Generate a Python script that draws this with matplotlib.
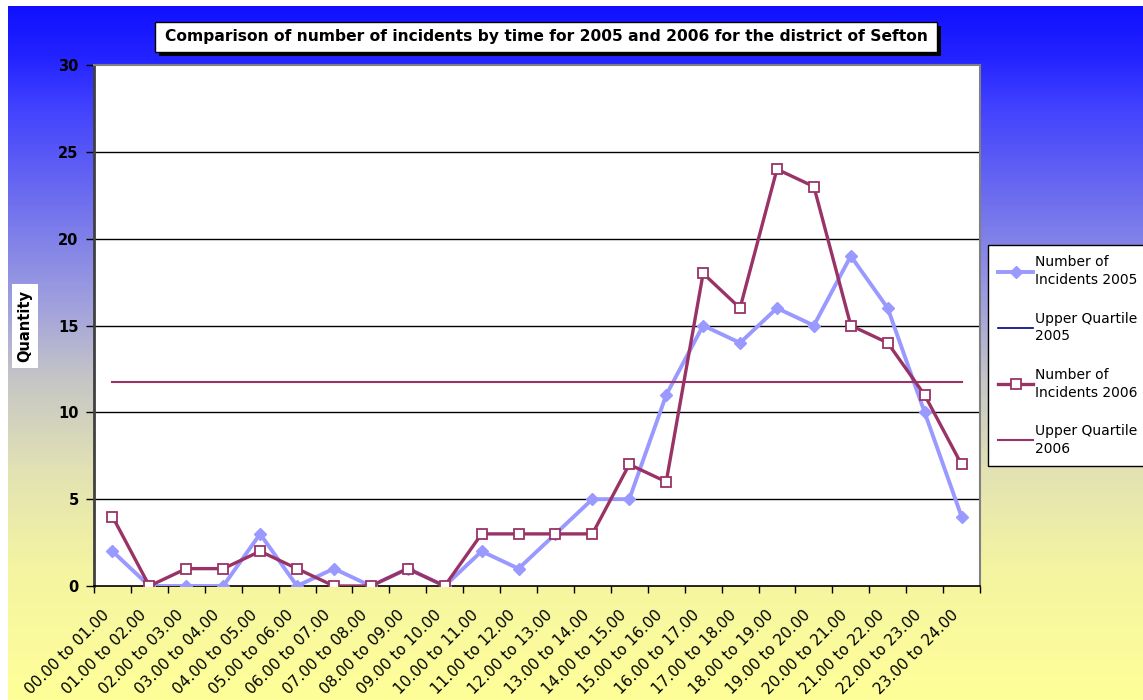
import numpy as np
import matplotlib
matplotlib.use("Agg")
import matplotlib.pyplot as plt
import matplotlib.transforms as mtransforms
from matplotlib.colors import LinearSegmentedColormap
from matplotlib.patches import Rectangle

categories = ["00.00 to 01.00", "01.00 to 02.00", "02.00 to 03.00", "03.00 to 04.00",
              "04.00 to 05.00", "05.00 to 06.00", "06.00 to 07.00", "07.00 to 08.00",
              "08.00 to 09.00", "09.00 to 10.00", "10.00 to 11.00", "11.00 to 12.00",
              "12.00 to 13.00", "13.00 to 14.00", "14.00 to 15.00", "15.00 to 16.00",
              "16.00 to 17.00", "17.00 to 18.00", "18.00 to 19.00", "19.00 to 20.00",
              "20.00 to 21.00", "21.00 to 22.00", "22.00 to 23.00", "23.00 to 24.00"]
incidents_2005 = [2, 0, 0, 0, 3, 0, 1, 0, 1, 0, 2, 1, 3, 5, 5, 11, 15, 14, 16, 15, 19, 16, 10, 4]
incidents_2006 = [4, 0, 1, 1, 2, 1, 0, 0, 1, 0, 3, 3, 3, 3, 7, 6, 18, 16, 24, 23, 15, 14, 11, 7]
upper_quartile_2005 = 11.75
upper_quartile_2006 = 11.75
y_ticks = [0, 5, 10, 15, 20, 25, 30]

title = "Comparison of number of incidents by time for 2005 and 2006 for the district of Sefton"

W, H = 1143, 700
fig = plt.figure(figsize=(W / 100, H / 100), dpi=100)
fig.patch.set_facecolor("white")

# background gradient
bg = fig.add_axes([8 / W, 0, 1 - 8 / W, 1 - 6 / H], zorder=-10)
stops = [(0.0, "#1010ff"), (0.07, "#2222ff"), (0.14, "#4040ff"), (0.29, "#7272ee"),
         (0.43, "#a0a0de"), (0.54, "#c6c6c6"), (0.67, "#e2e2b4"), (0.81, "#f4f4a2"),
         (1.0, "#ffff99")]
cmap = LinearSegmentedColormap.from_list("bg", stops)
grad = np.linspace(0, 1, 512).reshape(-1, 1)
bg.imshow(grad, aspect="auto", cmap=cmap, extent=[0, 1, 0, 1])
bg.set_axis_off()

ax = fig.add_axes([94 / W, 1 - 586 / H, (980 - 94) / W, (586 - 65) / H])
ax.set_facecolor("white")
x = np.arange(len(categories))

ax.plot(x, incidents_2005, color="#9999ff", lw=2.8, marker="D", ms=6,
        markerfacecolor="#9999ff", markeredgecolor="#9999ff", label="Number of\nIncidents 2005", zorder=3)
ax.plot(x, [upper_quartile_2005] * len(x), color="#000080", lw=1.2,
        label="Upper Quartile\n2005", zorder=3)
ax.plot(x, incidents_2006, color="#993366", lw=2.4, marker="s", ms=7,
        markerfacecolor="white", markeredgecolor="#993366", markeredgewidth=1.3,
        label="Number of\nIncidents 2006", zorder=4)
ax.plot(x, [upper_quartile_2006] * len(x), color="#993366", lw=1.5,
        label="Upper Quartile\n2006", zorder=4)

ax.set_xlim(-0.5, len(categories) - 0.5)
ax.set_ylim(0, 30)
ax.set_yticks(y_ticks)
ax.set_yticklabels([str(v) for v in y_ticks], fontsize=10.5, fontweight="bold",
                   family="DejaVu Sans")
ax.tick_params(axis="y", length=6, width=1, pad=5, color="black")
for v in y_ticks[1:-1]:
    ax.axhline(v, color="black", lw=1, zorder=1)

ax.set_xticks(x)
ax.set_xticklabels(categories, rotation=45, ha="right", va="top",
                   rotation_mode="anchor", fontsize=11, family="DejaVu Sans")
ax.tick_params(axis="x", which="major", length=0, pad=0)
offset = mtransforms.ScaledTranslation(-0.11, -0.21, fig.dpi_scale_trans)
for lab in ax.get_xticklabels():
    lab.set_transform(lab.get_transform() + offset)
ax.set_xticks(np.arange(-0.5, len(categories) + 0.5, 1), minor=True)
ax.tick_params(axis="x", which="minor", length=5, width=1, color="black")

ax.spines["left"].set_color("#404040")
ax.spines["left"].set_linewidth(2)
ax.spines["bottom"].set_color("black")
ax.spines["bottom"].set_linewidth(1.2)
ax.spines["top"].set_color("#808080")
ax.spines["top"].set_linewidth(1.5)
ax.spines["right"].set_color("#808080")
ax.spines["right"].set_linewidth(1.5)

# y label
fig.text(25 / W, 1 - 326 / H, "Quantity", rotation=90, ha="center", va="center",
         fontsize=10.5, fontweight="bold", family="DejaVu Sans",
         bbox=dict(facecolor="white", edgecolor="none", pad=4))

# title box with shadow
bx0, bx1, by0, by1 = 155, 937, 22, 52
fig.patches.append(Rectangle(((bx0 + 4) / W, 1 - (by1 + 4) / H), (bx1 - bx0) / W, (by1 - by0) / H,
                             transform=fig.transFigure, facecolor="black", edgecolor="none", zorder=5))
fig.patches.append(Rectangle((bx0 / W, 1 - by1 / H), (bx1 - bx0) / W, (by1 - by0) / H,
                             transform=fig.transFigure, facecolor="white", edgecolor="black",
                             lw=1, zorder=6))
fig.text((bx0 + bx1) / 2 / W, 1 - (by0 + by1) / 2 / H, title, ha="center", va="center",
         fontsize=11.2, fontweight="bold", family="DejaVu Sans", zorder=7)

leg = fig.legend(loc="upper left", bbox_to_anchor=(988 / W, 1 - 245 / H), borderaxespad=0,
                 frameon=True, fancybox=False, labelspacing=1.75,
                 handlelength=2.5, handletextpad=0.15, borderpad=0.75,
                 prop={"family": "DejaVu Sans", "size": 10})
for t in leg.get_texts():
    t.set_linespacing(1.35)
leg.get_frame().set_edgecolor("black")
leg.get_frame().set_linewidth(1)
leg.get_frame().set_facecolor("white")
leg.get_frame().set_alpha(1)

fig.savefig("out.png", dpi=100)
